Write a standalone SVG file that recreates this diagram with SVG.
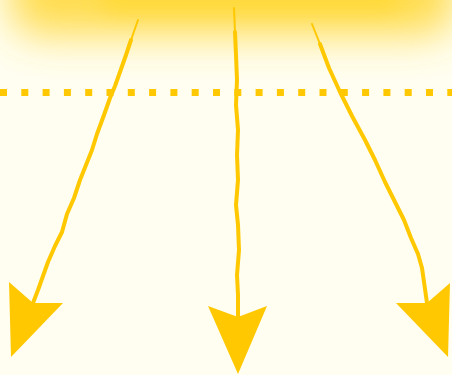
<svg xmlns="http://www.w3.org/2000/svg" width="452" height="375" viewBox="0 0 452 375">
<defs>
<filter id="blur" x="-40%" y="-200%" width="180%" height="500%"><feGaussianBlur stdDeviation="20"/></filter>
<filter id="blur2" x="-40%" y="-200%" width="180%" height="500%"><feGaussianBlur stdDeviation="10"/></filter>
<style>
.shaft{fill:none;stroke:#ffc800;stroke-width:4;stroke-linecap:round;stroke-linejoin:round}
.tip{fill:none;stroke:#ffc800;stroke-width:2;stroke-linecap:round}
.head{fill:#ffc800}
.dots{fill:none;stroke:#ffc800;stroke-width:7;stroke-dasharray:7 14.3}
</style>
</defs>
<rect width="452" height="375" fill="#fffef0"/>
<g id="glow">
<rect x="10" y="-50" width="445" height="85" rx="30" fill="#ffd630" opacity="0.85" filter="url(#blur)"/>
<rect x="100" y="-20" width="300" height="32" rx="15" fill="#ffda38" opacity="0.9" filter="url(#blur2)"/>
</g>
<g id="horizon">
<line class="dots" x1="0" y1="92.5" x2="452" y2="92.5"/>
</g>
<g id="connectors">
<path class="tip" d="M138,20 L131,40"/>
<path class="shaft" d="M131,40 L126,55 L120,72 L115,86 L110,98 L104,115 L97,134 L92,150 L86,165 L80,180 L74,198 L67,214 L62,232 L55,246 L48,262 L43,276 L38,290 L33,303"/>
<path class="head" d="M9,282 L33,303 L63,303 L11,357 Z"/>
<path class="tip" d="M234,8 L235,32"/>
<path class="shaft" d="M235,32 L236,55 L237,80 L236,105 L238,130 L237,155 L238,180 L236,205 L238,225 L239,250 L237,275 L238,295 L238,317"/>
<path class="head" d="M208,306 L238,317 L267,306 L238,374 Z"/>
<path class="tip" d="M312,24 L320,44"/>
<path class="shaft" d="M320,44 L329,68 L340,92 L352,116 L365,140 L375,160 L385,182 L395,202 L404,220 L411,238 L418,254 L422,268 L424,282 L427,303"/>
<path class="head" d="M396,303 L427,303 L450,283 L448,357 Z"/>
</g>
</svg>
